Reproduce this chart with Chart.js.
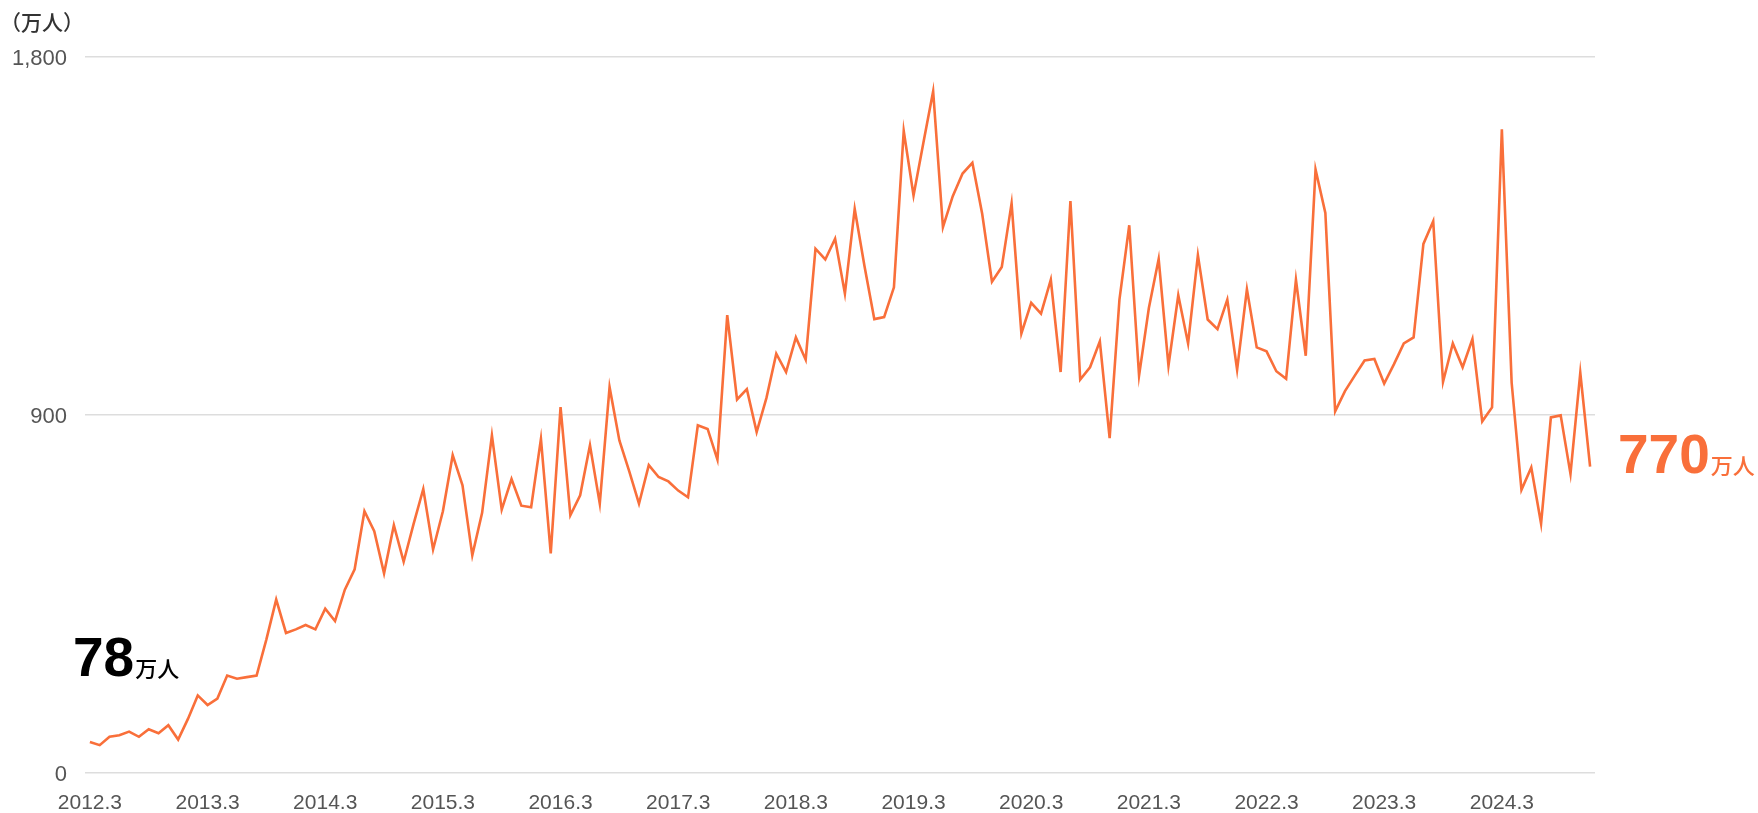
<!DOCTYPE html>
<html lang="ja">
<head>
    <meta charset="UTF-8">
    <title>月別推移（万人）</title>
    <script src="https://cdn.jsdelivr.net/npm/chart.js"></script>
    <style>
        body {
            margin: 0;
            background: #ffffff;
        }
        #wrap {
            width: 1758px;
            height: 813px;
        }
    </style>
</head>
<body>
    <div id="wrap">
        <canvas id="trendChart" width="1758" height="813"></canvas>
    </div>

    <script>
        // Series: monthly values (万人), 2012.3 - 2024.12
        const startYear = 2012;
        const startMonth = 3;
        const values = [
            78, 70, 91, 95, 104, 91, 110, 100, 120, 84, 136, 195,
            171, 187, 245, 237, 241, 245, 336, 436, 352, 361, 372, 361,
            413, 382, 461, 512, 658, 608, 502, 623, 531, 625, 714, 562,
            658, 799, 723, 547, 654, 849, 662, 739, 672, 668, 840, 552,
            920, 648, 698, 824, 677, 970, 836, 759, 677, 774, 744, 733,
            710, 693, 874, 865, 788, 1151, 939, 965, 857, 943, 1054, 1008,
            1095, 1039, 1318, 1291, 1343, 1205, 1418, 1274, 1141, 1146, 1221, 1614,
            1452, 1584, 1714, 1372, 1450, 1507, 1534, 1406, 1235, 1272, 1432, 1105,
            1182, 1155, 1240, 1008, 1438, 989, 1020, 1085, 842, 1190, 1377, 999,
            1169, 1292, 1024, 1201, 1080, 1302, 1140, 1116, 1190, 1014, 1216, 1070,
            1060, 1010, 991, 1240, 1049, 1517, 1408, 909, 960, 999, 1037, 1041,
            979, 1028, 1080, 1095, 1330, 1387, 983, 1080, 1020, 1091, 884, 919,
            1618, 981, 712, 768, 627, 894, 899, 752, 1006, 770
        ];
        const yTicks = [0, 900, 1800];
        const firstLabel = '78';
        const lastLabel = '770';
        const unitText = '万人';
        const axisUnit = '（万人）';

        // month labels like "2012.3"
        const labels = values.map((v, i) => {
            const m = startMonth - 1 + i;
            return (startYear + Math.floor(m / 12)) + '.' + (m % 12 + 1);
        });

        const orange = '#f96f3a';
        const latin = '"Liberation Sans", Arial, "Noto Sans CJK JP", sans-serif';
        const cjk = '"Noto Sans CJK JP", "Liberation Sans", sans-serif';

        // texts outside the plot: unit, first and last value callouts
        const calloutPlugin = {
            id: 'callouts',
            afterDraw(chart) {
                const ctx = chart.ctx;
                const area = chart.chartArea;
                ctx.save();
                ctx.textBaseline = 'alphabetic';
                ctx.textAlign = 'left';

                ctx.fillStyle = '#333333';
                ctx.font = '500 21px ' + cjk;
                ctx.fillText(axisUnit, 0, 30);

                // first value
                ctx.fillStyle = '#000000';
                ctx.font = 'bold 55px ' + latin;
                ctx.fillText(firstLabel, area.left - 12, 676);
                let w = ctx.measureText(firstLabel).width;
                ctx.font = '500 22px ' + cjk;
                ctx.fillText(unitText, area.left - 12 + w + 1, 677);

                // last value
                ctx.fillStyle = orange;
                ctx.font = 'bold 55px ' + latin;
                const lx = area.right + 23;
                ctx.fillText(lastLabel, lx, 473);
                w = ctx.measureText(lastLabel).width;
                ctx.font = '500 22px ' + cjk;
                ctx.fillText(unitText, lx + w + 1, 474);
                ctx.restore();
            }
        };

        new Chart(document.getElementById('trendChart'), {
            type: 'line',
            data: {
                labels: labels,
                datasets: [{
                    data: values,
                    borderColor: orange,
                    borderWidth: 2.6,
                    pointRadius: 0,
                    tension: 0,
                    fill: false
                }]
            },
            options: {
                responsive: false,
                animation: false,
                layout: {
                    padding: { top: 57, right: 163, left: 0, bottom: 0 }
                },
                plugins: {
                    legend: { display: false },
                    tooltip: { enabled: false }
                },
                scales: {
                    x: {
                        offset: true,
                        grid: { display: false },
                        border: { display: false },
                        ticks: {
                            autoSkip: false,
                            maxRotation: 0,
                            padding: 10,
                            color: '#555555',
                            font: { family: latin, size: 21 },
                            callback: function(value, index) {
                                const l = labels[index];
                                return l.endsWith('.3') ? l : null;
                            }
                        },
                        afterFit(scale) {
                            scale.height = 40;
                        }
                    },
                    y: {
                        min: 0,
                        max: 1800,
                        afterBuildTicks(scale) {
                            scale.ticks = yTicks.map(v => ({ value: v }));
                        },
                        grid: {
                            color: '#dddddd',
                            lineWidth: 1.5,
                            drawTicks: false
                        },
                        border: { display: false },
                        ticks: {
                            padding: 18,
                            labelOffset: 2,
                            color: '#555555',
                            font: { family: latin, size: 22 },
                            callback: v => v.toLocaleString('en-US')
                        },
                        afterFit(scale) {
                            scale.width = 85;
                        }
                    }
                }
            },
            plugins: [calloutPlugin]
        });
    </script>
</body>
</html>
